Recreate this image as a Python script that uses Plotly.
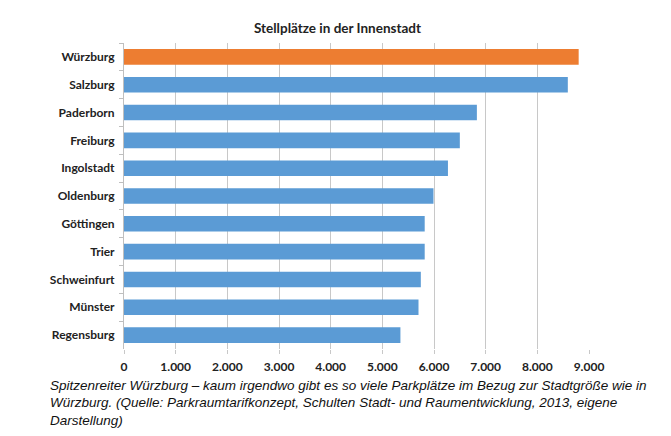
import plotly.graph_objects as go

cities = ["Würzburg", "Salzburg", "Paderborn", "Freiburg", "Ingolstadt", "Oldenburg",
          "Göttingen", "Trier", "Schweinfurt", "Münster", "Regensburg"]
values = [8800, 8590, 6830, 6500, 6270, 5990, 5820, 5820, 5745, 5700, 5350]
highlight = "Würzburg"
tick_vals = [0, 1000, 2000, 3000, 4000, 5000, 6000, 7000, 8000, 9000]
tick_text = ["0", "1.000", "2.000", "3.000", "4.000", "5.000", "6.000", "7.000", "8.000", "9.000"]
caption_lines = [
    "Spitzenreiter Würzburg – kaum irgendwo gibt es so viele Parkplätze im Bezug zur Stadtgröße wie in",
    "Würzburg. (Quelle: Parkraumtarifkonzept, Schulten Stadt- und Raumentwicklung, 2013, eigene",
    "Darstellung)",
]

colors = ["#ED7D31" if c == highlight else "#5B9BD5" for c in cities]

FONT = "Lato, Open Sans, sans-serif"

fig = go.Figure(go.Bar(
    x=values, y=cities, orientation="h",
    marker=dict(color=colors, line=dict(width=0)),
    width=0.56,
))

fig.update_layout(
    width=663, height=428,
    margin=dict(l=116, r=82, t=35, b=87),
    paper_bgcolor="white", plot_bgcolor="white",
    showlegend=False,
    title=dict(text="<b>Stellplätze in der Innenstadt</b>", x=0.497, xanchor="center",
               y=0.953, yanchor="middle",
               font=dict(family=FONT, size=13.5, color="#222")),
    font=dict(family=FONT, color="#222"),
)

fig.update_xaxes(
    range=[0, 9000], tickvals=tick_vals, ticktext=tick_text,
    showgrid=True, gridcolor="#c8c8c8", gridwidth=1,
    ticks="outside", ticklen=4, tickcolor="#c8c8c8",
    showline=False, zeroline=False,
    tickfont=dict(size=12, family=FONT, color="#222", weight="bold"),
    ticklabelstandoff=3,
)
fig.update_yaxes(
    categoryorder="array", categoryarray=cities, autorange="reversed",
    showline=True, linecolor="#bfbfbf", linewidth=1,
    ticks="outside", ticklen=4, tickcolor="#bfbfbf", tickson="boundaries",
    showgrid=False,
    tickfont=dict(size=12, family=FONT, color="#222", weight="bold"),
    ticklabelstandoff=6,
)

for i, line in enumerate(caption_lines):
    fig.add_annotation(
        xref="paper", yref="paper", x=(40 - 116) / 465, y=-0.088 - i * 17.3 / 306,
        xanchor="left", yanchor="top", align="left", showarrow=False,
        text="<i>" + line + "</i>",
        font=dict(family="Liberation Sans, Arial, sans-serif", size=13.5, color="#111"),
    )

fig.write_html("out.html")
